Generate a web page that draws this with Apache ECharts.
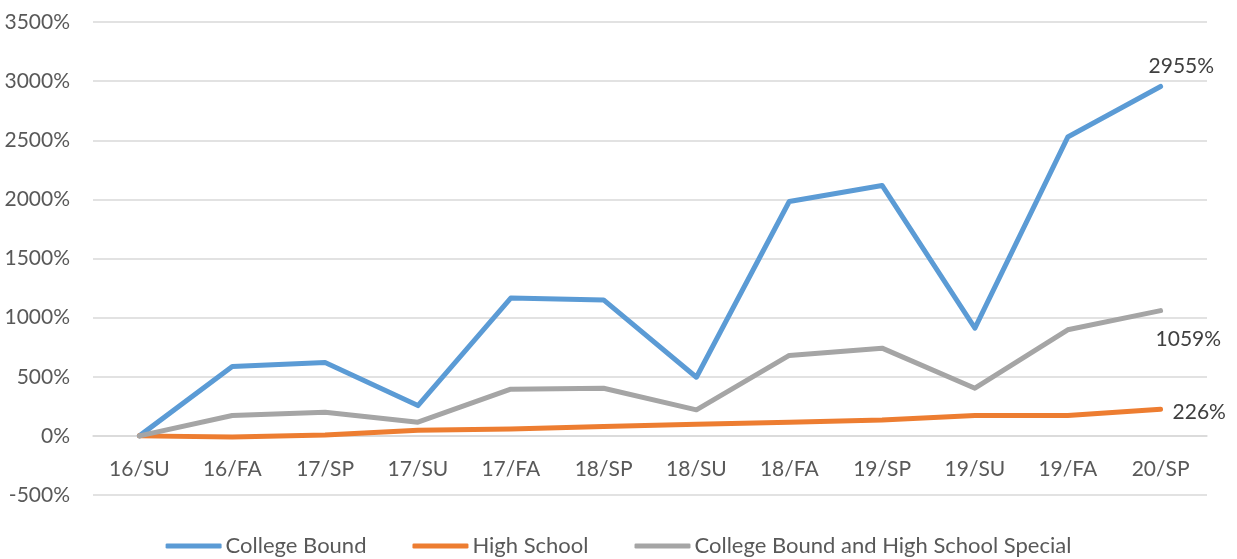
<!DOCTYPE html>
<html>
<head>
<meta charset="utf-8">
<script src="https://cdn.jsdelivr.net/npm/echarts@6/dist/echarts.min.js"></script>
<style>
  html, body { margin: 0; padding: 0; background: #fff; }
  #chart { width: 1237px; height: 559px; }
</style>
</head>
<body>
<div id="chart"></div>
<script>
// 学期
const terms = ['16/SU', '16/FA', '17/SP', '17/SU', '17/FA', '18/SP', '18/SU', '18/FA', '19/SP', '19/SU', '19/FA', '20/SP'];

// 各系列的增长率 (%)
const collegeBound = [0, 586, 620, 256, 1165, 1150, 496, 1982, 2118, 911, 2527, 2955];
const highSchool = [0, -10, 8, 48, 59, 79, 99, 116, 135, 172, 172, 226];
const combined = [0, 172, 200, 116, 395, 403, 220, 680, 742, 403, 897, 1059];

const yTicks = { min: -500, max: 3500, step: 500 };

const textFont = 'Lato';
const fontSize = 21;

// grid 的上下边距
const gridTop = 22;
const gridBottom = 64;
// 把类目轴挪到 0% 那条线上
const plotHeight = 559 - gridTop - gridBottom;
const zeroShift = -plotHeight * (0 - yTicks.min) / (yTicks.max - yTicks.min);

// 末端数值标签
function endLabel(offset) {
    return {
        show: true,
        offset: offset,
        distance: 0,
        color: '#404040',
        fontSize: fontSize,
        fontFamily: textFont,
        formatter: p => p.value + '%'
    };
}

function lineSeries(name, data, color, offset) {
    return {
        name: name,
        type: 'line',
        data: data,
        symbol: 'none',
        color: color,
        lineStyle: { width: 5, color: color, cap: 'round', join: 'round' },
        endLabel: endLabel(offset),
        silent: true
    };
}

const chart = echarts.init(document.getElementById('chart'));
chart.setOption({
    animation: false,
    grid: { left: 93, right: 30, top: gridTop, bottom: gridBottom, containLabel: false },
    legend: {
        bottom: -3,
        left: 'center',
        icon: 'roundRect',
        itemWidth: 56,
        itemHeight: 5,
        itemGap: 46,
        textStyle: { color: '#595959', fontSize: 22, fontFamily: textFont, padding: [0, 0, 0, -1] },
        data: ['College Bound', 'High School', 'College Bound and High School Special']
    },
    xAxis: {
        type: 'category',
        data: terms,
        boundaryGap: true,
        offset: zeroShift,
        axisLine: { show: true, onZero: false, lineStyle: { color: '#d9d9d9', width: 1.5 } },
        axisTick: { show: false },
        axisLabel: { color: '#595959', fontSize: fontSize, fontFamily: textFont, margin: 23 }
    },
    yAxis: {
        type: 'value',
        min: yTicks.min,
        max: yTicks.max,
        interval: yTicks.step,
        axisLine: { show: false },
        axisTick: { show: false },
        axisLabel: { color: '#595959', fontSize: fontSize, fontFamily: textFont, margin: 23, formatter: v => v + '%' },
        splitLine: { lineStyle: { color: '#d9d9d9', width: 1.5 } }
    },
    series: [
        lineSeries('College Bound', collegeBound, '#5B9BD5', [-12, -20]),
        lineSeries('High School', highSchool, '#ED7D31', [12, 3]),
        lineSeries('College Bound and High School Special', combined, '#A5A5A5', [-5, 29])
    ]
});
</script>
</body>
</html>
